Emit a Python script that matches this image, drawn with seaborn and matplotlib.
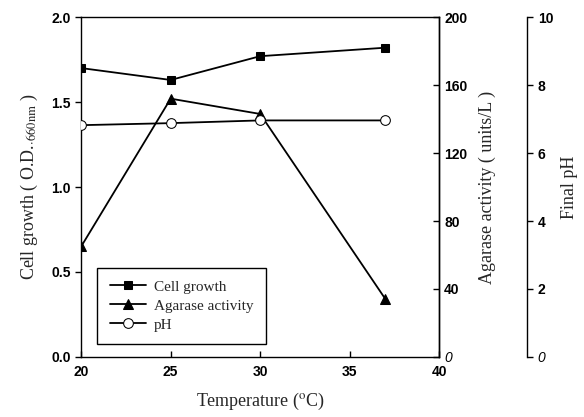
import matplotlib
matplotlib.use("Agg")
import matplotlib.pyplot as plt
import seaborn as sns
import pandas as pd

# data
temperature = [20, 25, 30, 37]
cell_growth = [1.70, 1.63, 1.77, 1.82]
agarase_activity = [65, 152, 143, 34]
final_ph = [6.82, 6.88, 6.96, 6.96]

x_ticks = [20, 25, 30, 35, 40]
growth_ticks = [0.0, 0.5, 1.0, 1.5, 2.0]
agarase_ticks = [0, 40, 80, 120, 160, 200]
ph_ticks = [0, 2, 4, 6, 8, 10]

sns.set_style("ticks")
plt.rcParams["font.family"] = ["Liberation Sans", "DejaVu Sans"]
plt.rcParams["mathtext.fontset"] = "stix"

df = pd.DataFrame({"T": temperature, "growth": cell_growth,
                   "agarase": agarase_activity, "ph": final_ph})

fig = plt.figure(figsize=(5.84, 4.17), dpi=100)
ax = fig.add_axes([0.139, 0.144, 0.613, 0.815])
ax2 = ax.twinx()
ax3 = ax.twinx()
ax3.spines["right"].set_position(("axes", 1.246))

lw = 1.3
sns.lineplot(data=df, x="T", y="growth", ax=ax, color="black", lw=lw,
             marker="s", markersize=6, markeredgecolor="black", label="Cell growth", legend=False)
sns.lineplot(data=df, x="T", y="agarase", ax=ax2, color="black", lw=lw,
             marker="^", markersize=7, markeredgecolor="black", label="Agarase activity", legend=False)
sns.lineplot(data=df, x="T", y="ph", ax=ax3, color="black", lw=lw,
             marker="o", markersize=7, markerfacecolor="white", markeredgecolor="black",
             label="pH", legend=False)

ax.set_xlim(20, 40)
ax.set_ylim(0, 2.0)
ax2.set_ylim(0, 200)
ax3.set_ylim(0, 10)
ax.set_xticks(x_ticks)
ax.set_yticks(growth_ticks)
ax2.set_yticks(agarase_ticks)
ax3.set_yticks(ph_ticks)
ax.set_yticklabels([f"{v:.1f}" for v in growth_ticks])

for a in (ax, ax2, ax3):
    for s in a.spines.values():
        s.set_linewidth(1.0)
        s.set_color("black")
    a.tick_params(labelsize=10, width=1.0, length=4, colors="black")
    for lab in a.get_xticklabels() + a.get_yticklabels():
        lab.set_fontweight("bold")

ax.tick_params(axis="x", direction="in", pad=6)
ax.tick_params(axis="y", direction="out")
ax2.tick_params(axis="y", direction="in")
ax3.tick_params(axis="y", direction="out")
for a in (ax2, ax3):
    a.spines["left"].set_visible(False)
    a.spines["top"].set_visible(False)
    a.spines["bottom"].set_visible(False)
    lab0 = a.get_yticklabels()[0]
    lab0.set_fontstyle("italic")
    lab0.set_fontweight("normal")

serif = ["Liberation Serif", "DejaVu Serif"]
ax.set_xlabel(r"Temperature ($^{\rm o}$C)", family=serif, fontsize=13, labelpad=8)
ax.set_ylabel(r"Cell growth ( O.D.$_{\cdot\mathrm{660nm}}$ )", family=serif, fontsize=13, labelpad=8)
ax2.set_ylabel("Agarase activity ( units/L )", family=serif, fontsize=13, labelpad=8)
ax3.set_ylabel("Final pH", family=serif, fontsize=13, labelpad=6)

handles = []
for a in (ax, ax2, ax3):
    handles += a.get_lines()
leg = ax.legend(handles=handles, labels=["Cell growth", "Agarase activity", "pH"],
                loc="lower left", bbox_to_anchor=(0.045, 0.038), borderaxespad=0,
                frameon=True, fancybox=False, edgecolor="black", framealpha=1,
                prop={"family": serif, "size": 11}, handlelength=2.4,
                borderpad=0.8, handletextpad=0.5, labelspacing=0.35)
leg.get_frame().set_linewidth(1.0)
leg.set_zorder(5)

fig.savefig("out.png", dpi=100)
